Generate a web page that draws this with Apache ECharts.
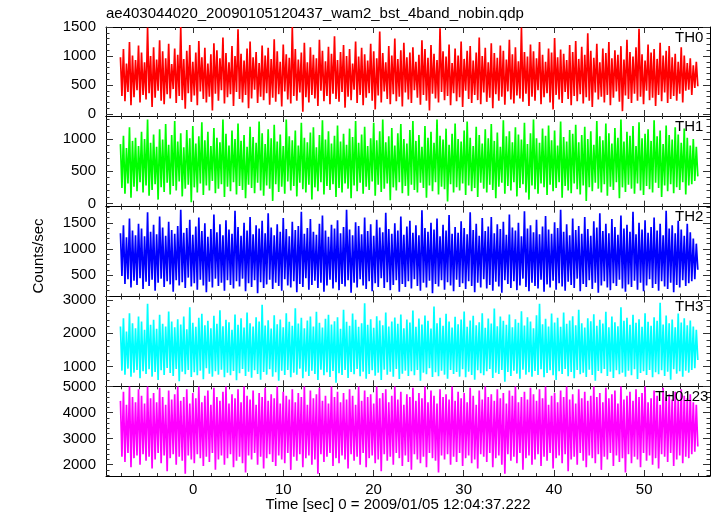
<!DOCTYPE html>
<html>
<head>
<meta charset="utf-8">
<script src="https://cdn.jsdelivr.net/npm/echarts@6/dist/echarts.min.js"></script>
<style>
html,body{margin:0;padding:0;background:#fff;}
#chart{width:717px;height:516px;}
</style>
</head>
<body>
<div id="chart"></div>
<script>
// ---- data (Counts/sec, binned; first bin at t0, bin width dt) ----
const titleText = 'ae403044020_20090105120437_wam2_bst_4band_nobin.qdp';
const xTitle = 'Time [sec] 0 = 2009/01/05 12:04:37.222';
const yTitle = 'Counts/sec';
const bandNames = ['TH0', 'TH1', 'TH2', 'TH3', 'TH0123'];
const t0 = -8.05;
const dt = 0.1671;

const th0 = [
980,310,1120,220,870,380,1240,150,1010,290,930,410,1180,200,1060,330,
890,250,1490,360,1000,120,1150,280,940,400,1270,230,1080,170,960,340,
1210,270,860,430,1130,190,1020,310,1500,240,950,90,1090,360,1190,210,
900,320,1060,150,1260,390,980,260,1140,200,870,300,1030,60,1220,350,
1100,230,960,410,1320,180,1050,290,890,340,1170,140,1000,380,1460,260,
1040,200,920,330,1130,100,1250,270,980,420,1070,190,880,300,1180,240,
1010,360,1140,160,950,280,1290,210,1080,340,900,130,1200,390,1030,250,
970,180,1500,310,1120,230,940,370,1060,40,1230,290,890,200,1150,330,
1020,270,960,140,1280,400,1090,220,910,310,1160,170,1040,350,1340,260,
930,210,1070,380,1190,110,1000,300,1120,240,870,420,1250,190,990,330,
1140,150,1030,280,920,360,1210,230,1080,80,960,320,1420,200,1050,390,
890,260,1170,170,1010,340,1300,220,950,300,1100,130,1230,370,980,250,
1060,190,1150,410,900,280,1020,160,1270,330,1120,230,970,60,1190,350,
1040,270,930,200,1480,380,1080,240,990,310,1200,150,880,360,1130,220,
1010,290,1250,120,950,400,1090,260,1170,190,920,330,1060,240,1320,170,
1000,370,1140,210,890,280,1220,100,1050,340,970,230,1180,300,1090,160,
940,390,1280,250,1030,180,1150,320,910,270,1490,210,1070,350,990,140,
1200,300,1080,230,960,410,1240,170,1020,290,900,360,1130,200,1060,80,
1310,330,980,250,1110,190,1040,380,930,260,1190,150,1070,310,1260,220,
950,340,1160,180,1020,290,1390,230,1090,120,970,370,1210,250,890,300,
1130,200,1050,330,1240,150,960,280,1100,390,1020,210,1170,50,940,320,
1280,260,1070,190,990,350,1150,230,1470,300,1030,170,920,400,1200,240,
1060,280,1120,140,950,330,1230,220,1010,370,1090,190,1170,260,980,310,
1040,230,900,350,1150,200,1010,400,880,420,960,330,840,450,900,480
];
const th1 = [
920,240,1050,150,860,310,1180,90,970,260,1020,190,890,330,1110,170,
1000,280,1300,120,940,210,1070,300,880,60,1150,250,990,180,1230,320,
910,140,1060,270,1280,200,960,340,1090,110,870,230,1140,290,1010,20,
1200,250,930,170,1040,310,1260,130,980,280,1110,200,890,350,1170,160,
1020,230,950,300,1300,100,1080,260,900,190,1130,330,1000,140,1240,270,
970,210,1060,80,880,290,1190,240,1030,160,940,320,1270,200,1090,120,
920,280,1150,230,1010,40,1220,300,960,180,1070,260,890,150,1300,340,
1040,200,980,270,1130,110,900,320,1250,220,1020,170,950,290,1100,60,
1180,250,870,190,1060,330,1290,140,990,270,1120,210,930,300,1050,100,
1210,240,960,170,1080,310,910,230,1160,80,1030,280,1280,190,940,320,
1070,150,1190,260,890,210,1010,340,1250,120,980,290,1120,180,1300,230,
950,310,1040,50,1170,250,900,200,1090,330,1230,160,1000,270,930,120,
1140,290,1280,210,970,170,1060,320,880,240,1200,90,1020,280,1110,190,
940,330,1300,140,1050,260,990,220,1160,30,910,300,1080,170,1240,250,
1000,200,960,310,1130,130,1270,280,1020,190,890,240,1190,100,1060,320,
930,230,1150,170,1010,290,1230,210,970,80,1100,260,880,320,1290,150,
1040,270,1120,200,950,330,1180,110,1070,240,990,300,1250,170,920,60,
1090,280,1300,220,1010,150,940,310,1160,250,1050,130,1210,290,980,190,
1130,240,900,330,1270,90,1030,270,960,200,1140,160,1080,310,1220,220,
950,140,1060,280,1190,40,1000,250,1120,190,910,320,1280,230,1040,170,
980,300,1240,120,1090,260,930,210,1170,330,1020,80,1300,250,960,180,
1110,290,1050,230,1200,150,890,310,1260,200,1010,130,1080,270,1150,220,
970,170,1290,320,1040,240,1130,100,920,280,1210,190,1060,300,990,160,
1180,250,1070,210,940,330,1160,140,1020,280,900,300,1000,350,880,420
];
const th2 = [
1300,480,1450,330,1220,420,1580,260,1350,390,1260,310,1480,440,1390,230,
1240,370,1700,290,1330,410,1460,200,1280,350,1620,430,1410,270,1250,380,
1520,320,1360,180,1290,400,1440,300,1750,360,1310,250,1400,450,1560,280,
1270,340,1430,220,1600,410,1340,300,1490,170,1230,370,1380,260,1660,430,
1320,290,1470,350,1260,200,1550,400,1370,310,1290,240,1730,380,1420,280,
1250,430,1500,190,1350,340,1610,270,1280,400,1450,150,1390,360,1540,250,
1300,320,1680,410,1410,230,1260,350,1470,290,1330,200,1590,420,1380,300,
1240,260,1520,380,1360,170,1440,330,1710,270,1290,440,1400,220,1570,310,
1330,390,1270,250,1480,350,1640,180,1350,300,1230,410,1460,240,1390,360,
1550,210,1300,330,1420,280,1750,400,1370,160,1260,350,1510,260,1440,420,
1280,300,1600,230,1340,380,1470,190,1250,340,1560,270,1410,440,1320,250,
1690,360,1380,210,1290,310,1490,400,1350,180,1620,330,1270,270,1430,380,
1540,240,1310,420,1450,290,1260,200,1740,350,1400,260,1330,390,1500,150,
1370,330,1580,280,1240,400,1460,220,1350,360,1650,300,1290,190,1420,410,
1310,270,1530,340,1400,230,1280,380,1700,290,1360,170,1480,350,1250,260,
1590,420,1340,240,1430,310,1610,200,1300,370,1470,280,1380,160,1520,400,
1270,330,1660,250,1410,380,1350,210,1500,300,1240,430,1720,270,1390,190,
1450,350,1320,290,1560,240,1280,410,1430,180,1630,320,1370,260,1290,390,
1510,220,1400,340,1750,280,1330,200,1470,370,1260,310,1580,250,1360,430,
1440,190,1290,330,1610,270,1380,400,1250,230,1530,350,1410,160,1680,300,
1340,380,1480,260,1300,210,1570,340,1420,290,1270,410,1640,240,1390,180,
1460,320,1330,270,1710,390,1280,220,1500,350,1370,190,1550,300,1310,420,
1420,250,1600,330,1350,200,1480,380,1260,280,1730,230,1390,350,1450,170,
1300,310,1540,260,1370,400,1250,290,1480,340,1320,380,1200,420,1100,600
];
const th3 = [
2200,880,2450,760,2050,940,2600,700,2300,820,2150,900,2500,650,2350,860,
2100,780,2880,920,2250,700,2400,840,2130,600,2550,890,2280,750,2200,960,
2650,810,2350,720,2180,930,2420,560,2260,850,2500,770,2120,900,2780,690,
2310,830,2190,740,2460,880,2580,620,2240,950,2370,790,2150,700,2520,860,
2280,760,2690,910,2210,680,2400,820,2330,740,2100,870,2560,590,2250,800,
2450,930,2170,720,2620,850,2300,670,2200,890,2480,780,2350,610,2850,840,
2230,760,2390,920,2140,700,2540,830,2270,580,2410,880,2180,750,2600,900,
2340,680,2220,820,2750,760,2290,940,2460,650,2150,850,2380,720,2500,880,
2200,780,2640,600,2310,910,2170,740,2430,830,2550,690,2260,870,2360,520,
2480,800,2130,750,2700,900,2340,660,2220,840,2590,770,2400,930,2190,710,
2300,850,2900,640,2250,780,2420,890,2160,730,2510,820,2380,600,2240,910,
2620,760,2200,850,2350,700,2470,930,2280,630,2560,790,2150,880,2410,720,
2320,860,2680,740,2190,900,2440,580,2260,820,2530,770,2370,950,2140,690,
2800,830,2300,710,2460,880,2220,760,2580,640,2350,900,2170,780,2490,840,
2270,700,2410,920,2650,680,2190,850,2380,750,2520,610,2240,890,2330,800,
2600,740,2160,860,2440,930,2290,660,2740,820,2210,780,2500,900,2370,550,
2250,840,2560,720,2180,880,2420,790,2310,640,2660,910,2230,760,2480,830,
2350,700,2150,870,2540,750,2880,920,2270,680,2430,810,2200,890,2590,740,
2320,600,2460,860,2190,780,2620,930,2280,710,2380,840,2510,650,2240,900,
2700,770,2300,820,2170,690,2450,910,2360,750,2570,580,2220,870,2400,800,
2290,930,2640,720,2180,850,2500,660,2330,890,2210,770,2780,820,2370,700,
2460,880,2250,740,2550,920,2310,630,2420,810,2190,860,2600,750,2340,900,
2220,680,2480,830,2370,770,2910,890,2260,720,2530,850,2300,610,2410,920,
2180,790,2590,860,2320,700,2450,880,2240,820,2380,900,2200,950,2100,1200
];
const th0123 = [
4450,2300,4800,2100,4300,2450,5000,1900,4600,2250,4400,2350,4900,2000,4650,2400,
4350,2150,5000,2300,4550,1850,4750,2200,4400,2450,4950,2050,4600,2350,4300,1750,
4850,2250,4500,2400,4700,2000,5000,2300,4450,2150,4600,1650,4900,2350,4350,2200,
4750,2050,4550,2400,5000,2250,4400,1950,4650,2300,4850,2100,4300,2450,4950,1800,
4600,2200,4450,2350,4800,2000,5000,2250,4350,2400,4700,1900,4550,2150,4900,2300,
4400,2050,5000,1700,4650,2350,4500,2200,4850,2450,4300,2000,4750,2300,4600,1850,
4950,2250,4450,2400,4700,2100,4550,1950,5000,2350,4350,2200,4800,2050,4650,2450,
4500,1800,4900,2300,4400,2150,4750,2400,4600,1900,5000,2250,4300,2350,4850,2000,
4550,2200,4700,1650,4950,2400,4450,2100,4650,2300,4350,2450,5000,1950,4600,2250,
4800,2050,4400,2350,4750,2200,4500,1850,4900,2400,4650,2150,4300,2300,5000,2000,
4450,2450,4850,1900,4600,2250,4700,2350,4350,2050,5000,2200,4550,1750,4750,2400,
4900,2150,4400,2300,4650,2000,5000,2450,4500,2250,4800,1950,4300,2350,4700,2100,
4600,1800,4950,2400,4450,2200,4750,2050,4550,2300,5000,1900,4400,2450,4850,2250,
4650,2150,4350,1700,4900,2350,4600,2200,4700,2400,4500,2000,5000,2300,4450,2100,
4800,2450,4550,1950,4750,2250,4400,2350,4950,2050,4650,2200,4300,1850,4850,2400,
4500,2300,5000,2100,4600,2450,4700,1900,4450,2250,4900,2350,4550,2000,4750,1650,
4350,2400,4850,2150,4650,2300,5000,2050,4400,2450,4600,1800,4800,2250,4500,2350,
4950,2000,4700,2200,4450,2400,4900,1950,4550,2300,5000,2150,4300,2450,4650,1850,
4750,2250,4400,2350,4850,2050,4600,2400,5000,1750,4500,2200,4700,2300,4350,2000,
4900,2450,4550,2150,4800,1900,4450,2350,4650,2250,5000,2050,4600,2400,4750,1800,
4400,2300,4950,2200,4550,2450,4700,1950,4850,2350,4350,2100,5000,2250,4500,1700,
4650,2400,4800,2050,4450,2300,4900,2200,4600,1900,4750,2450,5000,2150,4400,2350,
4550,2000,4850,2250,4650,1850,4300,2400,4950,2300,4600,2100,4700,2450,4500,1950,
4800,2200,4450,2350,4900,2050,4650,2300,4550,2250,4700,2400,4400,2500,4300,2700
];

// ---- axes (tick values) ----
const xRange = [-9.65, 57.3];
const xMajorTicks = [0, 10, 20, 30, 40, 50];
const xMinorStep = 2;
const yRanges = [[-34, 1500], [-50, 1356], [88, 1808], [411, 3100], [1564, 5010]];
const yMajorTicks = [[0, 500, 1000, 1500], [0, 500, 1000], [500, 1000, 1500], [1000, 2000, 3000], [2000, 3000, 4000, 5000]];
const yMinorSteps = [100, 100, 100, 200, 200];

// ---- styles / layout ----
const seriesData = [th0, th1, th2, th3, th0123];
const colors = ['#ff0000', '#00ff00', '#0000ff', '#00ffff', '#ff00ff'];
const FONT = '"Liberation Sans", Arial, Helvetica, sans-serif';
const plotLeft = 106, plotRight = 710;
const panelEdges = [27, 116, 206.7, 296.5, 386.3, 476];
const labelLeft = [675, 675, 675, 675, 655];

function minorTicks(lo, hi, step, majors) {
  const out = [];
  for (let v = Math.ceil(lo / step) * step; v <= hi + 1e-9; v += step) {
    const r = Math.round(v * 1000) / 1000;
    if (majors.indexOf(r) < 0) out.push(r);
  }
  return out;
}

const grids = [], xAxes = [], yAxes = [], series = [], graphics = [];
const tickColor = '#333';
const xMinor = minorTicks(xRange[0], xRange[1], xMinorStep, xMajorTicks);
const plainNum = (v) => String(v);

for (let i = 0; i < 5; i++) {
  const top = panelEdges[i], bottom = panelEdges[i + 1];
  grids.push({ left: plotLeft, top: top, width: plotRight - plotLeft, height: bottom - top, containLabel: false });
  const base = i * 4;
  const xa = (pos, vals, len, line, labels) => ({
    type: 'value', gridIndex: i, position: pos, min: xRange[0], max: xRange[1],
    axisLine: { show: line, onZero: false, lineStyle: { color: '#000', width: 1 } },
    axisTick: { show: true, inside: true, length: len, customValues: vals, lineStyle: { color: tickColor, width: 1 } },
    axisLabel: labels ? { show: true, customValues: vals, formatter: plainNum, fontSize: 15, color: '#000', fontFamily: FONT, margin: 6 } : { show: false },
    splitLine: { show: false }, minorTick: { show: false }
  });
  xAxes.push(xa('bottom', xMajorTicks, 6, true, i === 4));
  xAxes.push(xa('bottom', xMinor, 3, false, false));
  xAxes.push(xa('top', xMajorTicks, 6, true, false));
  xAxes.push(xa('top', xMinor, 3, false, false));

  const yr = yRanges[i];
  const yMinor = minorTicks(yr[0], yr[1], yMinorSteps[i], yMajorTicks[i]);
  const ya = (pos, vals, len, line, labels) => ({
    type: 'value', gridIndex: i, position: pos, min: yr[0], max: yr[1],
    axisLine: { show: line, onZero: false, lineStyle: { color: '#000', width: 1 } },
    axisTick: { show: true, inside: true, length: len, customValues: vals, lineStyle: { color: tickColor, width: 1 } },
    axisLabel: labels ? { show: true, customValues: vals, formatter: plainNum, fontSize: 15, color: '#000', fontFamily: FONT, margin: 10 } : { show: false },
    splitLine: { show: false }, minorTick: { show: false }
  });
  yAxes.push(ya('left', yMajorTicks[i], 7, true, true));
  yAxes.push(ya('left', yMinor, 3.5, false, false));
  yAxes.push(ya('right', yMajorTicks[i], 7, true, false));
  yAxes.push(ya('right', yMinor, 3.5, false, false));

  const vals = seriesData[i];
  const pts = vals.map((v, k) => [t0 + k * dt, v]);
  series.push({
    type: 'line', name: bandNames[i], xAxisIndex: base, yAxisIndex: base, data: pts,
    showSymbol: false, symbol: 'none', sampling: null, clip: true, silent: true,
    lineStyle: { color: colors[i], width: 1.7, join: 'bevel', cap: 'butt' }, itemStyle: { color: colors[i] }, z: 1
  });

  graphics.push({
    type: 'text', left: labelLeft[i], top: top + 3, silent: true,
    style: { text: bandNames[i], fontSize: 15, fontFamily: FONT, fill: '#000' }, z: 100
  });
}

graphics.push({ type: 'text', left: 106, top: 6, silent: true,
  style: { text: titleText, fontSize: 15, fontFamily: FONT, fill: '#000' } });
graphics.push({ type: 'text', x: 398, y: 505, silent: true,
  style: { text: xTitle, fontSize: 15, fontFamily: FONT, fill: '#000', textAlign: 'center', textVerticalAlign: 'middle' } });
graphics.push({ type: 'text', x: 39, y: 256, rotation: Math.PI / 2, silent: true,
  style: { text: yTitle, fontSize: 15, fontFamily: FONT, fill: '#000', textAlign: 'center', textVerticalAlign: 'middle' } });

const chart = echarts.init(document.getElementById('chart'), null, { renderer: 'canvas' });
chart.setOption({
  backgroundColor: '#fff',
  animation: false,
  grid: grids,
  xAxis: xAxes,
  yAxis: yAxes,
  series: series,
  graphic: graphics
});
</script>
</body>
</html>
